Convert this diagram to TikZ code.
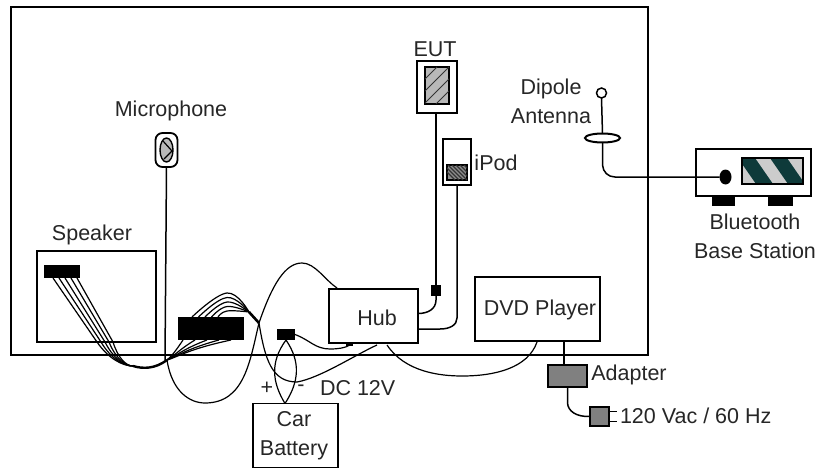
\documentclass[tikz,border=0pt]{standalone}
\usepackage{fontspec}
\setmainfont{Liberation Sans}
\usetikzlibrary{shapes.geometric}
\definecolor{hatchgray}{gray}{0.72}
\definecolor{padgray}{gray}{0.5}
\definecolor{stripeteal}{HTML}{0E3A3A}
\definecolor{stripelight}{gray}{0.8}

\begin{document}
\begin{tikzpicture}[x=1pt,y=-1pt,
    line width=1.5pt, line cap=butt, line join=miter,
    every node/.style={inner sep=0pt,outer sep=0pt},
    lab/.style={font=\fontsize{21.5}{29}\selectfont,align=center,text=black!85},
    box/.style={draw,rectangle,fill=white,lab},
    blk/.style={rectangle,fill=black},
    pad/.style={draw,rectangle,fill=padgray},
    wire/.style={line width=1.2pt,line join=round}]
  \useasboundingbox (0,0) rectangle (819,468);
  % ---- room outline ----
  \node[draw,rectangle,minimum width=637pt,minimum height=348pt] (room) at (329.5,181) {};
  % ---- boxes ----
  \node[box,minimum width=119pt,minimum height=91pt] (speaker) at (96.5,296.5) {};
  \node[box,minimum width=89pt,minimum height=54pt] (hub) at (373.5,316) {};
  \node[box,minimum width=125pt,minimum height=64pt] (dvd) at (537.5,309) {};
  \node[box,minimum width=85pt,minimum height=64pt] (battery) at (295.5,435.5) {};
  \node[box,minimum width=40pt,minimum height=52pt] (eut) at (437,87) {};
  \node[box,minimum width=28pt,minimum height=46pt] (ipod) at (457,162) {};
  \node[box,minimum width=115pt,minimum height=47pt] (base) at (753.5,172.5) {};
  \node[pad,minimum width=39pt,minimum height=22pt] (adapter) at (567.5,376) {};
  \node[pad,minimum width=19pt,minimum height=19pt] (plug) at (599.5,416.5) {};
  % ---- black parts ----
  \node[blk,minimum width=36pt,minimum height=13pt] (spkplug) at (62,271.5) {};
  \node[blk,minimum width=66pt,minimum height=23pt] (block) at (211,328.5) {};
  \node[blk,minimum width=18pt,minimum height=11pt] (clip) at (286,334.5) {};
  \node[blk,minimum width=10pt,minimum height=11pt] (eutclip) at (436,290.5) {};
  \node[blk,minimum width=23pt,minimum height=10pt] (footl) at (723.5,201) {};
  \node[blk,minimum width=25pt,minimum height=10pt] (footr) at (780.5,201) {};
  % ---- EUT / iPod screens ----
  \node[draw,rectangle,fill=hatchgray,minimum width=24pt,minimum height=37pt] (eutscreen) at (437,85.5) {};
  \begin{scope}
    \clip (425,67) rectangle (449,104);
    \foreach \k in {-12,0,...,36}
      \draw[line width=1pt,black!80] (400+\k,104) -- (400+\k+37,67);
  \end{scope}
  \node[draw,rectangle,fill=black!45,minimum width=20pt,minimum height=15pt] (ipodscreen) at (457,172.5) {};
  \begin{scope}
    \clip (447,165) rectangle (467,180);
    \foreach \k in {0,4,...,36}
      \draw[line width=1.2pt,black!80] (440+\k,165) -- (440+\k+15,180);
  \end{scope}
  % ---- base station display ----
  \node[draw,rectangle,fill=stripelight,minimum width=61pt,minimum height=26pt] (display) at (772.5,171) {};
  \begin{scope}
    \clip (742,158) rectangle (803,184);
    \fill[stripeteal] (738,158) -- (755,158) -- (773,184) -- (756,184) -- cycle;
    \fill[stripeteal] (770,158) -- (787,158) -- (805,184) -- (788,184) -- cycle;
  \end{scope}
  \draw (display.north west) rectangle (display.south east);
  % ---- microphone ----
  \node[draw,rectangle,rounded corners=7pt,line width=1.8pt,minimum width=22pt,minimum height=34pt] (mic) at (166.5,150) {};
  \node[draw,ellipse,fill=hatchgray,minimum width=13pt,minimum height=24pt,line width=1.4pt] (micface) at (166.5,150) {};
  \draw[line width=1.2pt] (163,141) -- (172,151) -- (164,159);
  % ---- antenna ----
  \node[draw,circle,minimum size=10pt] (tip) at (601.5,93) {};
  \node[draw,ellipse,fill=white,line width=2pt,minimum width=35pt,minimum height=9pt] (balun) at (602.5,138) {};
  \node[ellipse,fill=black,minimum width=12pt,minimum height=15pt] (feed) at (725.5,177) {};
  \draw (tip.south) -- (balun.north);
  \draw (balun.south) -- (602.5,165) .. controls (603,172) and (608,177) .. (615,177) -- (feed.west);
  % ---- cables to hub ----
  \draw (mic.south) -- (165,360);
  \draw (eut.south) ++(-1,0) -- (eutclip.north);
  \draw (eutclip.south) -- (436,300) .. controls (436,309) and (428,313.5) .. (hub.east |- 0,313.5);
  \draw (ipod.south) -- (457,318) .. controls (457,325) and (450,329) .. (440,329) -- (hub.east |- 0,329);
  % ---- DVD / adapter / plug ----
  \draw (dvd.south -| 564,0) -- (adapter.north -| 564,0);
  \draw (adapter.south) -- (567.5,403) .. controls (568,411) and (576,417) .. (plug.west);
  \draw (609,411.5) -- (617,411.5) (609,421.5) -- (617,421.5);
  \draw[wire] (387,345) .. controls (405,372) and (440,376) .. (462,376) .. controls (495,376) and (528,368) .. (537,342);
  % ---- speaker harness ----
  \coordinate (junC) at (133,366);
  \coordinate (junB) at (167,360);
  \coordinate (junA) at (259,323);
  \coordinate (junD) at (249,312);
  \foreach \i in {0,...,4}{
    \draw[wire] (53+6*\i,278) -- (97+4*\i,342) .. controls (108+2.5*\i,358) and (122+\i,366) .. (junC);
    \draw[wire] (junB) .. controls (172+2*\i,356) and (177+3*\i,349) .. (183+12*\i,340);
    \draw[wire] plot[smooth,tension=0.7] coordinates {(192+6.5*\i,317) (227,293+4.5*\i) (junD)};
  }
  \draw[line width=2.6pt] (junD) -- (junA);
  \draw[line width=2.4pt] (junC) .. controls (143,369) and (155,369) .. (junB);
  % ---- long loops ----
  \draw[wire] (junB) .. controls (172,392) and (190,403) .. (205,403) .. controls (245,403) and (250,360) .. (junA)
       .. controls (272,285) and (285,263) .. (302,263) .. controls (315,263) and (325,280) .. (337,288);
  \draw[wire] (junA) .. controls (265,360) and (272,382) .. (297,382) .. controls (320,378) and (355,355) .. (377,345);
  % ---- battery leads ----
  \draw[wire] (clip.south) .. controls (270,362) and (272,382) .. (battery.north -| 285,0);
  \draw[wire] (clip.south) .. controls (301,362) and (299,382) .. (battery.north -| 285,0);
  \draw[wire] (clip.east) .. controls (310,340) and (315,349) .. (330,349) .. controls (338,349) and (345,348) .. (350,345);
  \node[blk,minimum width=7pt,minimum height=3pt] (hubpin) at (349,344.5) {};
  % ---- labels ----
  \node[lab] (lhub) at (377,318) {Hub};
  \node[lab] (ldvd) at (540,310) {DVD Player};
  \node[lab] (lbat) at (294,435.5) {Car\\Battery};
  \node[lab] (lmic) at (171,111) {Microphone};
  \node[lab] (lspk) at (92,235) {Speaker};
  \node[lab] (leut) at (435,49) {EUT};
  \node[lab] (lipod) at (496,163) {iPod};
  \node[lab] (ldip) at (551,101) {Dipole\\Antenna};
  \node[lab] (lbase) at (755,236) {Bluetooth\\Base Station};
  \node[lab] (ladp) at (629,375) {Adapter};
  \node[lab,anchor=west] (lvac) at (620,416) {120 Vac / 60 Hz};
  \node[lab,anchor=west] (ldc) at (320,388) {DC 12V};
  \node[lab] (lplus) at (267,388) {+};
  \node[lab] (lminus) at (301,388) {-};
\end{tikzpicture}
\end{document}
